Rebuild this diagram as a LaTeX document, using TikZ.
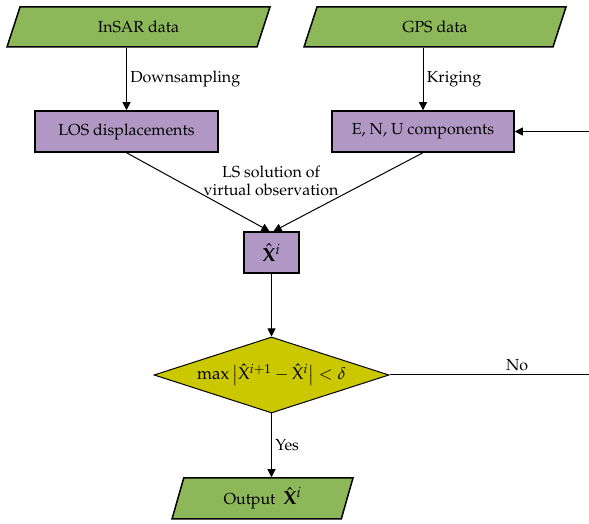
\documentclass[tikz,border=0pt]{standalone}
\usepackage[T1]{fontenc}
\usepackage{amsmath}
\usepackage{bm}
\usepackage{mathpazo}
\usepackage{tikz}
\usetikzlibrary{shapes.geometric,arrows.meta,positioning}
\definecolor{datagreen}{RGB}{141,184,90}
\definecolor{procpurple}{RGB}{177,152,196}
\definecolor{checkyellow}{RGB}{204,200,0}

\newcommand{\xhatbig}{{\fontsize{19}{22}\selectfont$\hat{\mathbf{X}}^{i}$}}

\tikzset{
  databox/.style={trapezium, trapezium stretches body, draw, line width=1.5pt, fill=datagreen, minimum height=40pt},
  procbox/.style={rectangle, draw, line width=1.5pt, fill=procpurple, minimum height=41pt},
  checkbox/.style={diamond, draw, line width=1pt, fill=checkyellow, minimum width=235pt, minimum height=76pt, inner sep=0pt, shape aspect=3.1},
  flow/.style={line width=1pt, -{Triangle[length=8pt,width=8pt]}}
}

\begin{document}
\begin{tikzpicture}[x=1pt, y=1pt, font=\fontsize{16}{18}\selectfont]
        \useasboundingbox (0,0) rectangle (589,524);

        \node[databox, trapezium left angle=55, trapezium right angle=125, minimum width=263pt] (insar) at (138.5,497) {InSAR data};
        \node[databox, trapezium left angle=55, trapezium right angle=125, minimum width=262pt] (gps) at (435,497) {GPS data};

        \node[procbox, minimum width=183pt] (los) at (126.5,392.5) {LOS displacements};
        \node[procbox, minimum width=182pt] (enu) at (423,392.5) {E, N, U components};
        \node[procbox, minimum width=55pt] (xhat) at (271.5,271.5) {\xhatbig};

        \node[checkbox, font=\fontsize{17}{19}\selectfont] (check) at (271.5,149) {$\max\left|\hat{\mathrm{X}}^{i+1}-\hat{\mathrm{X}}^{i}\right|<\delta$};
        \node[databox, trapezium left angle=67.5, trapezium right angle=112.5, minimum width=181pt, minimum height=41pt] (out) at (262.5,25.5) {Output~~\xhatbig};

        \draw[flow] (insar.south -| los.north) -- node[right] {Downsampling} (los.north);
        \draw[flow] (gps.south -| enu.north) -- node[right] {Kriging} (enu.north);

        \coordinate (fbin) at (589,392.5);
        \draw[flow] (fbin) -- (enu.east);

        \draw[flow] (los.south) -- ([xshift=-2pt]xhat.north);
        \draw[flow] (enu.south) -- ([xshift=2pt]xhat.north);
        \node[align=center] (ls) at (271,343) {LS solution of\\virtual observation};

        \draw[flow] (xhat.south) -- (check.north);

        \coordinate (fbout) at (589,149);
        \draw[line width=1pt] (check.east) -- node[pos=0.64, above] {No} (fbout);
        \draw[flow] (check.south) -- node[right] {Yes} (check.south |- out.north);

\end{tikzpicture}
\end{document}
